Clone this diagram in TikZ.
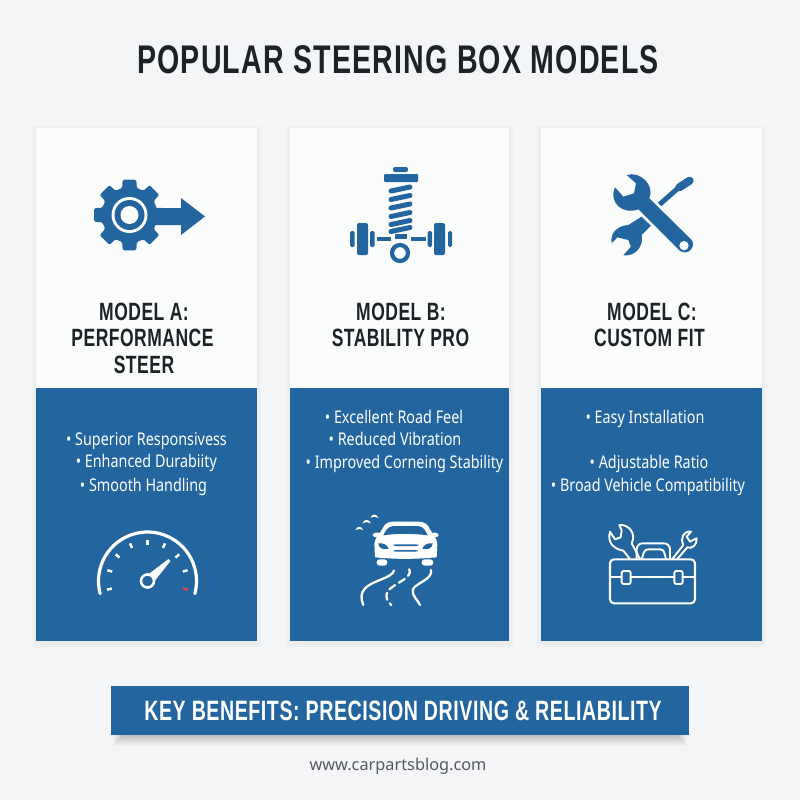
\documentclass[tikz,border=0pt]{standalone}
\usepackage{fontspec}
\setmainfont{Noto Sans}
\newfontfamily\headfont[FakeStretch=0.715,LetterSpace=3]{Liberation Sans}
\newfontfamily\modelfont[FakeStretch=0.70,LetterSpace=2]{Liberation Sans}
\newfontfamily\bodyfont[FakeStretch=0.82]{Noto Sans}
\definecolor{pagebg}{HTML}{F4F5F7}
\definecolor{cardwhite}{HTML}{FBFCFC}
\definecolor{steelblue}{HTML}{22659F}
\definecolor{inkdark}{HTML}{1E2226}
\definecolor{webgray}{HTML}{55585C}
\definecolor{gaugered}{HTML}{E0405A}
\tikzset{
  whitecard/.style={fill=cardwhite,draw=none},
  bluecard/.style={fill=steelblue,draw=none},
  modeltext/.style={text=inkdark,font=\modelfont\bfseries\fontsize{25}{28}\selectfont,inner sep=0pt,anchor=base},
  bullettext/.style={text=white,font=\bodyfont\fontsize{17.5}{20}\selectfont,inner sep=0pt,anchor=base},
  iconblue/.style={fill=steelblue,draw=none},
  iconwhite/.style={fill=white,draw=none},
  whiteline/.style={draw=white,line width=1pt,line cap=round,line join=round},
  tick/.style={draw=white,line width=2.5pt}
}
\begin{document}
\begin{tikzpicture}[x=1pt,y=-1pt]
\useasboundingbox (0,0) rectangle (800,800);
\fill[pagebg] (0,0) rectangle (800,800);
% soft card shadows
\foreach \xa/\xb in {36/257,290/509,541/762}{
  \foreach \s in {1,2,3,4,5}{
    \fill[black,opacity=0.007] (\xa-\s,128-\s+2) rectangle (\xb+\s,641+\s+2);
  }
}
% cards
\fill[whitecard] (36,128) rectangle (257,388);
\fill[bluecard] (36,388) rectangle (257,641);
\fill[whitecard] (290,128) rectangle (509,388);
\fill[bluecard] (290,388) rectangle (509,641);
\fill[whitecard] (541,128) rectangle (762,388);
\fill[bluecard] (541,388) rectangle (762,641);
% title
\node[text=inkdark,font=\headfont\bfseries\fontsize{40}{44}\selectfont,inner sep=0pt,anchor=base] (title) at (398,74) {POPULAR STEERING BOX MODELS};
% model names
\node[modeltext] (a1) at (144,320) {MODEL A:};
\node[modeltext] (a2) at (142.5,346) {PERFORMANCE};
\node[modeltext] (a3) at (144,373) {STEER};
\node[modeltext] (b1) at (401,320) {MODEL B:};
\node[modeltext] (b2) at (400.5,346) {STABILITY PRO};
\node[modeltext] (c1) at (652,320) {MODEL C:};
\node[modeltext] (c2) at (649.5,346) {CUSTOM FIT};
% bullets
\node[bullettext] (ab1) at (146.5,445) {• Superior Responsivess};
\node[bullettext] (ab2) at (146.3,467.7) {• Enhanced Durabiity};
\node[bullettext] (ab3) at (143.5,491) {• Smooth Handling};
\node[bullettext] (bb1) at (394,423) {• Excellent Road Feel};
\node[bullettext] (bb2) at (395,445.3) {• Reduced Vibration};
\node[bullettext] (bb3) at (404.5,468.3) {• Improved Corneing Stability};
\node[bullettext] (cb1) at (645,423) {• Easy Installation};
\node[bullettext] (cb2) at (649,468.3) {• Adjustable Ratio};
\node[bullettext] (cb3) at (648,491) {• Broad Vehicle Compatibility};
% gear icon
\begin{scope}[shift={(129.5,215)}]
  \fill[iconblue,rounded corners=1.5pt] (-14:28)
    \foreach \t in {0,45,...,315}{
      -- (\t-15:28) -- (\t-11:36) -- (\t+11:36) -- (\t+15:28)
    } -- cycle;
  \fill[white] (0,0) circle (18);
  \fill[iconblue] (0,0) circle (15);
  \fill[white] (0,0) circle (9);
\end{scope}
\fill[iconblue] (155,208) -- (181,208) -- (181,198) -- (205,216.5) -- (181,235) -- (181,225) -- (155,225) -- cycle;
% suspension icon
\begin{scope}
  \fill[iconblue,rounded corners=2pt] (393,167) rectangle (408,172);
  \fill[iconblue,rounded corners=1pt] (384,174) rectangle (418,182);
  \foreach \yc in {189,197.5,206,214.5,222.5,229.5}{
    \draw[steelblue,line width=5pt,line cap=round] (391,\yc+2) -- (410,\yc-2);
  }
  \fill[iconblue] (377,236.5) rectangle (391,241);
  \fill[iconblue] (411,236.5) rectangle (426,241);
  \fill[iconblue] (395,234) rectangle (407,239);
  \draw[steelblue,line width=4.2pt] (400,253) circle (8);
  \fill[iconblue,rounded corners=2pt] (357,223) rectangle (368,255);
  \fill[iconblue,rounded corners=1.5pt] (350,231) rectangle (354.5,247);
  \fill[iconblue,rounded corners=1.5pt] (370,231) rectangle (374.5,247);
  \fill[iconblue,rounded corners=2pt] (434,223) rectangle (445,255);
  \fill[iconblue,rounded corners=1.5pt] (448,231) rectangle (452,247);
  \fill[iconblue,rounded corners=1.5pt] (427.5,231) rectangle (432,247);
\end{scope}
% tools icon (zoom coordinates)
\begin{scope}[shift={(560,150)},x=.3333pt,y=-.3333pt]
  % screwdriver + small wrench
  \draw[steelblue,line width=5pt] (240,215) -- (365,105);
  \draw[steelblue,line width=8pt,line cap=round] (358,112) -- (389,92);
  \fill[iconblue] (205,225) .. controls (170,228) and (150,250) .. (155,280)
    -- (172,262) -- (205,270) -- (213,290) -- (190,316)
    .. controls (225,320) and (252,290) .. (245,255) -- (275,225) -- (245,200) -- cycle;
  % gap round the main wrench
  \draw[cardwhite,line width=21pt] (250,160) -- (378,287);
  % main wrench
  \fill[iconblue] (200,75) .. controls (240,62) and (285,105) .. (268,145)
    -- (395,270) .. controls (408,290) and (385,318) .. (360,303)
    -- (235,178) .. controls (190,195) and (145,160) .. (165,112)
    -- (190,140) -- (222,130) -- (228,100) -- cycle;
  \fill[cardwhite] (372,287) circle (14);
\end{scope}
% gauge icon
\begin{scope}[shift={(147.5,581)},y=1pt]
  \draw[white,line width=3.2pt,line cap=round] (195:49) arc[start angle=195,end angle=-15,radius=49];
  \foreach \a in {192,165,140,115,90,65,40,15}{
    \draw[tick] (\a:36.5) -- (\a:41.5);
  }
  \draw[draw=gaugered,line width=2.5pt] (-12:36.5) -- (-12:41.5);
  \fill[white] (-4,3) -- (21,22) -- (23,20) -- (5.5,-2) -- cycle;
  \fill[steelblue] (0,0) circle (6);
  \draw[white,line width=2.6pt] (0,0) circle (6.5);
\end{scope}
% car icon (zoom coordinates)
\begin{scope}[shift={(330,500)},x=.3333pt,y=-.3333pt]
  \fill[iconwhite] (133,130) .. controls (135,115) and (150,100) .. (158,85)
    .. controls (165,70) and (175,65) .. (190,65) -- (265,65)
    .. controls (285,65) and (295,75) .. (300,88)
    .. controls (305,100) and (322,112) .. (322,135) -- (320,172)
    .. controls (250,178) and (200,178) .. (135,172) -- cycle;
  \fill[iconblue] (160,106) .. controls (168,92) and (172,80) .. (190,78) -- (265,78)
    .. controls (280,80) and (287,92) .. (293,106)
    .. controls (250,100) and (200,100) .. (160,106) -- cycle;
  \fill[iconwhite,rounded corners=3pt] (128,98) rectangle (155,112);
  \fill[iconwhite,rounded corners=3pt] (300,98) rectangle (326,112);
  \fill[iconblue] (145,130) .. controls (160,128) and (172,135) .. (176,146) .. controls (160,150) and (145,145) .. (145,130) -- cycle;
  \fill[iconblue] (308,130) .. controls (293,128) and (281,135) .. (277,146) .. controls (293,150) and (308,145) .. (308,130) -- cycle;
  \fill[iconblue,rounded corners=2pt] (190,133) rectangle (265,138);
  \fill[iconblue,rounded corners=2pt] (192,150) rectangle (263,155);
  \fill[iconwhite,rounded corners=3pt] (140,178) rectangle (172,197);
  \fill[iconwhite,rounded corners=3pt] (275,178) rectangle (310,197);
  % tracks
  \draw[whiteline,line width=2.3pt] (192,212) .. controls (185,235) and (130,240) .. (105,265) .. controls (92,280) and (92,295) .. (100,315);
  \draw[whiteline,line width=2.3pt] (303,210) .. controls (310,240) and (250,250) .. (248,272) .. controls (248,290) and (262,298) .. (270,315);
  \draw[whiteline,line width=2.3pt,dash pattern=on 7pt off 4.5pt] (238,208) .. controls (250,235) and (190,250) .. (172,275) .. controls (165,290) and (172,305) .. (184,315);
  % motion arcs
  \fill[iconwhite] (76,90) .. controls (82,78) and (92,76) .. (100,90) .. controls (92,86) and (84,86) .. (76,90) -- cycle;
  \fill[iconwhite] (97,70) .. controls (104,56) and (115,56) .. (123,70) .. controls (115,65) and (105,65) .. (97,70) -- cycle;
  \fill[iconwhite] (121,53) .. controls (128,40) and (138,40) .. (146,54) .. controls (138,49) and (128,49) .. (121,53) -- cycle;
\end{scope}
% toolbox icon (zoom coordinates)
\begin{scope}[shift={(590,510)},x=.3333pt,y=-.3333pt]
  \draw[whiteline,line width=1.9pt] (120,147) -- (100,122) .. controls (75,118) and (50,100) .. (60,65)
    -- (75,88) -- (92,82) -- (95,62) -- (88,45)
    .. controls (115,42) and (140,70) .. (125,100) -- (150,147);
  \draw[whiteline,line width=1.9pt] (247,147) -- (280,105) .. controls (270,85) and (280,62) .. (303,65)
    -- (290,80) -- (300,95) -- (320,85)
    .. controls (322,105) and (305,118) .. (292,112) -- (262,147);
  \draw[whiteline,line width=1.9pt,rounded corners=6pt] (140,147) -- (140,100) -- (240,100) -- (240,147);
  \draw[whiteline,line width=1.9pt,rounded corners=3pt] (155,147) -- (165,118) -- (220,118) -- (228,147);
  \draw[whiteline,line width=2.1pt,rounded corners=4pt] (60,148) rectangle (315,280);
  \draw[whiteline,line width=1.9pt] (60,200) -- (315,200);
  \filldraw[fill=steelblue,draw=white,line width=1.9pt,rounded corners=2pt] (95,183) rectangle (122,222);
  \filldraw[fill=steelblue,draw=white,line width=1.9pt,rounded corners=2pt] (253,183) rectangle (278,222);
\end{scope}
% bar shadow
\foreach \s in {0,1,...,10}{
  \fill[black,opacity=0.02] (113+\s,735) rectangle (687-\s,746-\s);
}
% bar
\node[fill=steelblue,minimum width=578pt,minimum height=49pt,inner sep=0pt,anchor=north west] (bar) at (111,686) {};
\node[text=white,font=\modelfont\bfseries\fontsize{28}{32}\selectfont,inner sep=0pt,anchor=base] (bartext) at (403,720) {KEY BENEFITS: PRECISION DRIVING \& RELIABILITY};
\node[text=webgray,font=\fontsize{16.3}{19}\selectfont,inner sep=0pt,anchor=base] (web) at (398,770.5) {www.carpartsblog.com};
\end{tikzpicture}
\end{document}
